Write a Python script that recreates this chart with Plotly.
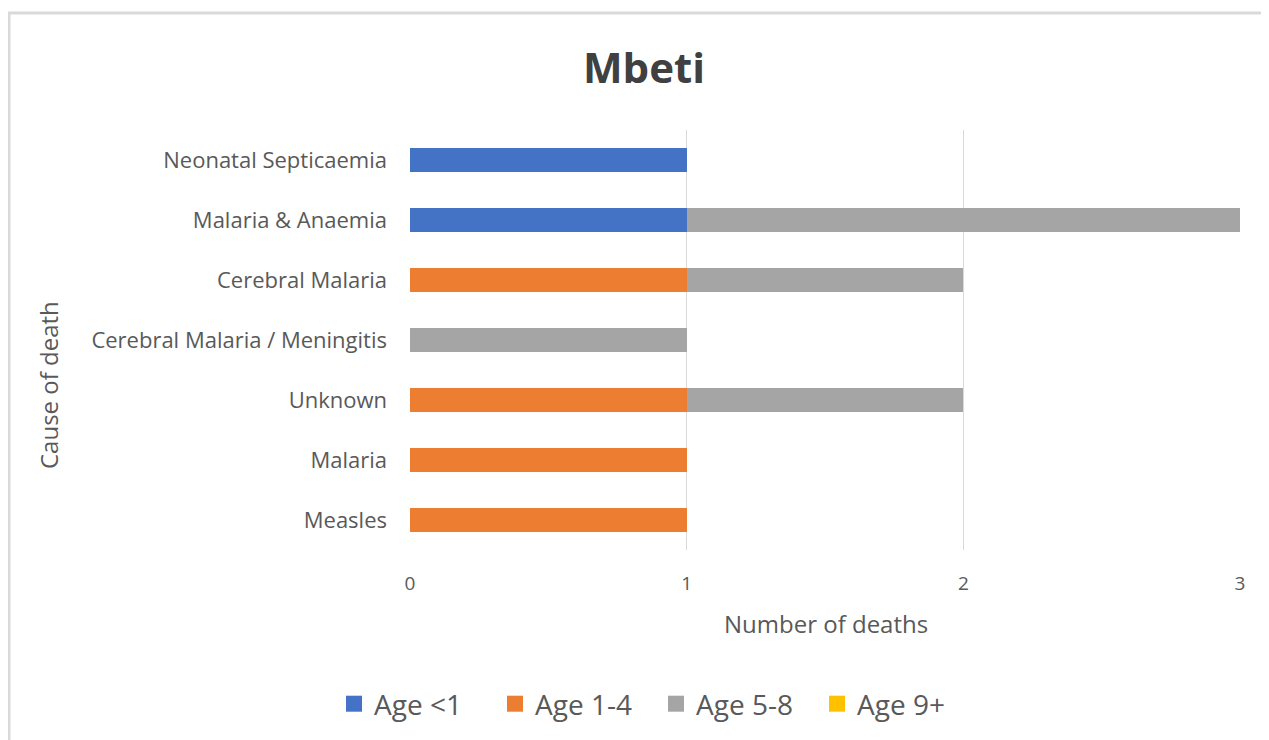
import plotly.graph_objects as go

causes = ["Measles", "Malaria", "Unknown", "Cerebral Malaria / Meningitis",
          "Cerebral Malaria", "Malaria & Anaemia", "Neonatal Septicaemia"]
age_lt1 = [0, 0, 0, 0, 0, 1, 1]
age_1_4 = [1, 1, 1, 0, 1, 0, 0]
age_5_8 = [0, 0, 1, 1, 1, 2, 0]
age_9p = [0, 0, 0, 0, 0, 0, 0]
x_ticks = [0, 1, 2, 3]

series = [("Age <1", age_lt1, "#4472C4"), ("Age 1-4", age_1_4, "#ED7D31"),
          ("Age 5-8", age_5_8, "#A5A5A5"), ("Age 9+", age_9p, "#FFC000")]

OFF = 8  # default page body margin
W, H = 1269 - OFF, 740 - OFF
# target page coordinates of the plot area
L, R, T, B = 410, 1240, 130, 550
pw, ph = R - L, B - T

def px(x):
    return (x - L) / pw

def py(y):
    return (B - y) / ph

fig = go.Figure()
for name, vals, col in series:
    fig.add_trace(go.Bar(y=causes, x=vals, name=name, orientation="h",
                         marker=dict(color=col, line=dict(width=0)),
                         showlegend=False, legendgroup=name))
    fig.add_trace(go.Scatter(x=[None], y=[None], mode="markers", name=name,
                             legendgroup=name,
                             marker=dict(symbol="square", size=18, color=col)))

txt = "#595959"
fig.update_layout(
    width=W, height=H,
    margin=dict(l=L - OFF, r=W - (R - OFF), t=T - OFF, b=H - (B - OFF), autoexpand=False),
    paper_bgcolor="white", plot_bgcolor="white",
    barmode="stack", bargap=0.6,
    font=dict(family="Open Sans", color=txt),
    title=dict(text="<b>Mbeti</b>", x=px(644), xref="paper", xanchor="center",
               y=1 - (68 - OFF) / H, yanchor="middle",
               font=dict(size=42, color="#404040", family="Open Sans")),
    xaxis=dict(range=[0, 3], tickvals=x_ticks, showgrid=True, gridcolor="#d9d9d9",
               gridwidth=1, zeroline=False, showline=False, ticks="",
               tickfont=dict(size=19, color=txt), ticklabelstandoff=20),
    yaxis=dict(showgrid=False, zeroline=False, showline=False, ticks="",
               tickfont=dict(size=22, color=txt), ticklabelstandoff=22),
    legend=dict(orientation="h", x=px(656), xanchor="center", y=py(704),
                yanchor="middle", font=dict(size=28, color=txt),
                itemwidth=30, traceorder="normal", entrywidth=116),
    showlegend=True,
)
fig.add_annotation(text="Number of deaths", x=px(826), y=py(623), xref="paper", yref="paper",
                   xanchor="center", yanchor="middle",
                   showarrow=False, font=dict(size=24, color=txt))
fig.add_annotation(text="Cause of death", x=px(48), y=py(385), xref="paper", yref="paper",
                   xanchor="center", yanchor="middle",
                   showarrow=False, textangle=-90, font=dict(size=24, color=txt))
fig.add_shape(type="rect", xref="paper", yref="paper",
              x0=px(9), x1=px(1300), y0=py(780), y1=py(13),
              line=dict(color="#d9d9d9", width=3), layer="below")
fig.write_html("out.html")
